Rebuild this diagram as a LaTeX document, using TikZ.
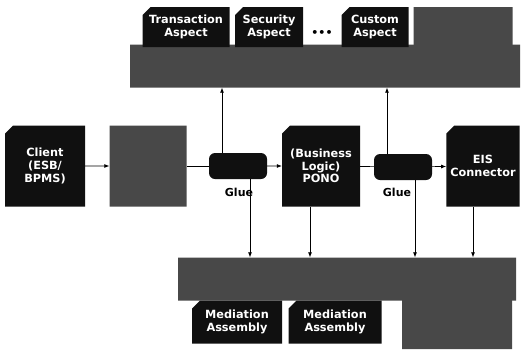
\documentclass[tikz,border=0pt]{standalone}
\usepackage{fontspec}
\setmainfont{DejaVu Sans}
\usetikzlibrary{arrows.meta,shapes.misc}
\definecolor{darkbox}{RGB}{16,16,16}
\definecolor{greybox}{RGB}{72,72,72}
\tikzset{
  blk/.style={chamfered rectangle, chamfered rectangle corners=north west,
    chamfered rectangle xsep=4pt, chamfered rectangle ysep=4pt,
    fill=darkbox, text=white, inner sep=0pt, align=center,
    font=\fontsize{11.3}{12.6}\selectfont\bfseries},
  gry/.style={blk, fill=greybox},
  glue/.style={rectangle, rounded corners=6pt, fill=darkbox, inner sep=0pt},
  lbl/.style={font=\fontsize{11}{12}\selectfont\bfseries},
  arr/.style={-{Latex[length=5pt,width=4pt]}, line width=0.7pt},
  ln/.style={line width=0.7pt}
}
\begin{document}
\begin{tikzpicture}[x=1pt, y=-1pt]
  \useasboundingbox (0,0) rectangle (524,351);
  % top row
  \node[gry, minimum width=390pt, minimum height=43pt] (topbar) at (325,66) {};
  \node[blk, minimum width=87pt, minimum height=40pt] (trans) at (186,27) {Transaction\\Aspect};
  \node[blk, minimum width=68pt, minimum height=40pt] (secu) at (269,27) {Security\\Aspect};
  \node[lbl] (dots) at (322,33) {\textbullet\textbullet\textbullet};
  \node[blk, minimum width=67pt, minimum height=40pt] (cust) at (375,27) {Custom\\Aspect};
  \node[gry, minimum width=99pt, minimum height=40pt] (extra) at (463,27) {};
  % middle row
  \node[blk, minimum width=80pt, minimum height=81pt] (client) at (45,166) {Client\\(ESB/\\BPMS)};
  \node[gry, minimum width=77pt, minimum height=81pt] (svc) at (148,166) {};
  \node[glue, minimum width=58pt, minimum height=26pt] (glue1) at (238,166) {};
  \node[lbl] (gluea) at (239,192) {Glue};
  \node[blk, minimum width=78pt, minimum height=81pt] (pono) at (321,166) {(Business\\Logic)\\PONO};
  \node[glue, minimum width=58pt, minimum height=26pt] (glue2) at (403,167) {};
  \node[lbl] (glueb) at (397,192) {Glue};
  \node[blk, minimum width=72pt, minimum height=81pt] (eis) at (483,166) {EIS\\Connector};
  % bottom row
  \node[gry, minimum width=338pt, minimum height=43pt] (botbar) at (347,279) {};
  \node[blk, minimum width=90pt, minimum height=43pt] (med1) at (237,322) {Mediation\\Assembly};
  \node[blk, minimum width=93pt, minimum height=43pt] (med2) at (335,322) {Mediation\\Assembly};
  \node[gry, minimum width=110pt, minimum height=50pt] (extrb) at (457,324) {};
  % connectors
  \draw[arr] (client) -- (svc);
  \draw[ln] (svc) -- (glue1);
  \draw[arr] (glue1) -- (pono);
  \draw[ln] (pono) -- (glue2);
  \draw[arr] (glue2) -- (eis);
  \draw[arr] ([xshift=-16pt]glue1.north) -- ([xshift=-16pt]glue1.north |- topbar.south);
  \draw[arr] ([xshift=-16pt]glue2.north) -- ([xshift=-16pt]glue2.north |- topbar.south);
  \draw[arr] ([xshift=12pt]glue1.south) -- ([xshift=12pt]glue1.south |- botbar.north);
  \draw[arr] ([xshift=-11pt]pono.south) -- ([xshift=-11pt]pono.south |- botbar.north);
  \draw[arr] ([xshift=12pt]glue2.south) -- ([xshift=12pt]glue2.south |- botbar.north);
  \draw[arr] ([xshift=-10pt]eis.south) -- ([xshift=-10pt]eis.south |- botbar.north);
\end{tikzpicture}
\end{document}
